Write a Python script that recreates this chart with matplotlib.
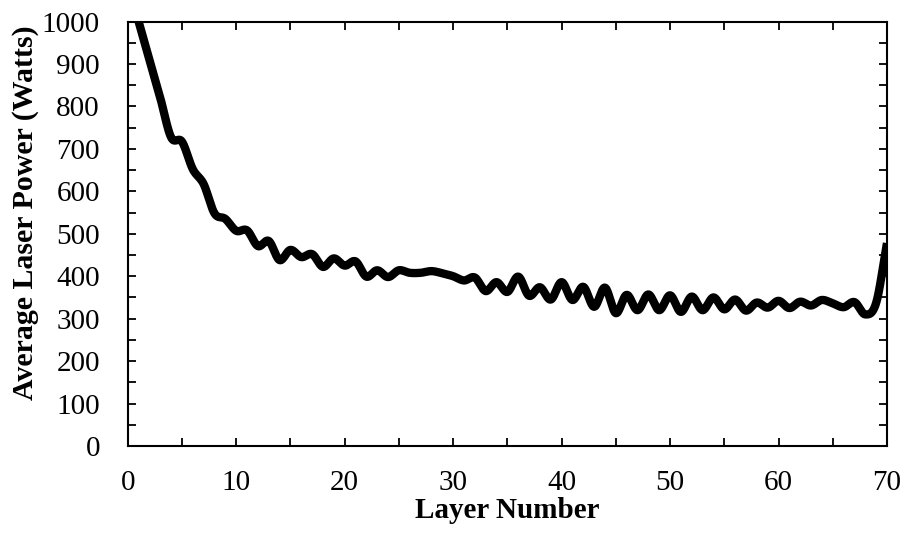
import matplotlib
matplotlib.use("Agg")
import matplotlib.pyplot as plt
from matplotlib.ticker import MultipleLocator
import numpy as np

# Average laser power per deposited layer
layers = list(range(1, 71))
power = [1000, 910, 820, 727, 717, 652, 617, 548, 535, 507,
         508, 471, 483, 438, 462, 445, 452, 422, 442, 425,
         435, 399, 414, 398, 414, 408, 408, 412, 407, 400,
         390, 397, 365, 386, 363, 399, 354, 374, 345, 386,
         344, 375, 328, 373, 313, 356, 320, 357, 320, 355,
         316, 352, 320, 350, 322, 345, 319, 338, 326, 342,
         325, 340, 331, 344, 336, 327, 339, 310, 337, 478]

x_label = 'Layer Number'
y_label = 'Average Laser Power (Watts)'


def smooth(x, y, n=20):
    # Catmull-Rom curve through the points, like a spreadsheet "smoothed line"
    x = np.asarray(x, float)
    y = np.asarray(y, float)
    px = np.concatenate([[2 * x[0] - x[1]], x, [2 * x[-1] - x[-2]]])
    py = np.concatenate([[2 * y[0] - y[1]], y, [2 * y[-1] - y[-2]]])
    t = np.linspace(0, 1, n, endpoint=False)
    xs, ys = [], []
    for i in range(1, len(px) - 2):
        for p, out in ((px, xs), (py, ys)):
            p0, p1, p2, p3 = p[i - 1], p[i], p[i + 1], p[i + 2]
            out.append(0.5 * (2 * p1 + (-p0 + p2) * t
                              + (2 * p0 - 5 * p1 + 4 * p2 - p3) * t ** 2
                              + (-p0 + 3 * p1 - 3 * p2 + p3) * t ** 3))
    xs.append([x[-1]])
    ys.append([y[-1]])
    return np.concatenate(xs), np.concatenate(ys)


plt.rcParams['font.family'] = 'Liberation Serif'

fig = plt.figure(figsize=(9.06, 5.38), dpi=100)
ax = fig.add_axes([0.141, 0.171, 0.838, 0.789])

sx, sy = smooth(layers, power)
ax.plot(sx, sy, color='black', linewidth=6, solid_capstyle='butt')

ax.set_xlim(0, 70)
ax.set_ylim(0, 1000)
ax.xaxis.set_major_locator(MultipleLocator(10))
ax.xaxis.set_minor_locator(MultipleLocator(5))
ax.yaxis.set_major_locator(MultipleLocator(100))
ax.yaxis.set_minor_locator(MultipleLocator(50))
ax.tick_params(which='both', direction='in', top=True, right=True,
               length=6, width=1.3, labelsize=21)
ax.tick_params(axis='x', pad=17)
ax.tick_params(axis='y', pad=20)
for sp in ax.spines.values():
    sp.set_linewidth(1.5)

ax.set_xlabel(x_label, fontsize=21, fontweight='bold')
ax.set_ylabel(y_label, fontsize=21.5, fontweight='bold')
ax.xaxis.set_label_coords(0.5, -0.12)
ax.yaxis.set_label_coords(-0.117, 0.55)

fig.savefig('out.png', dpi=100)
